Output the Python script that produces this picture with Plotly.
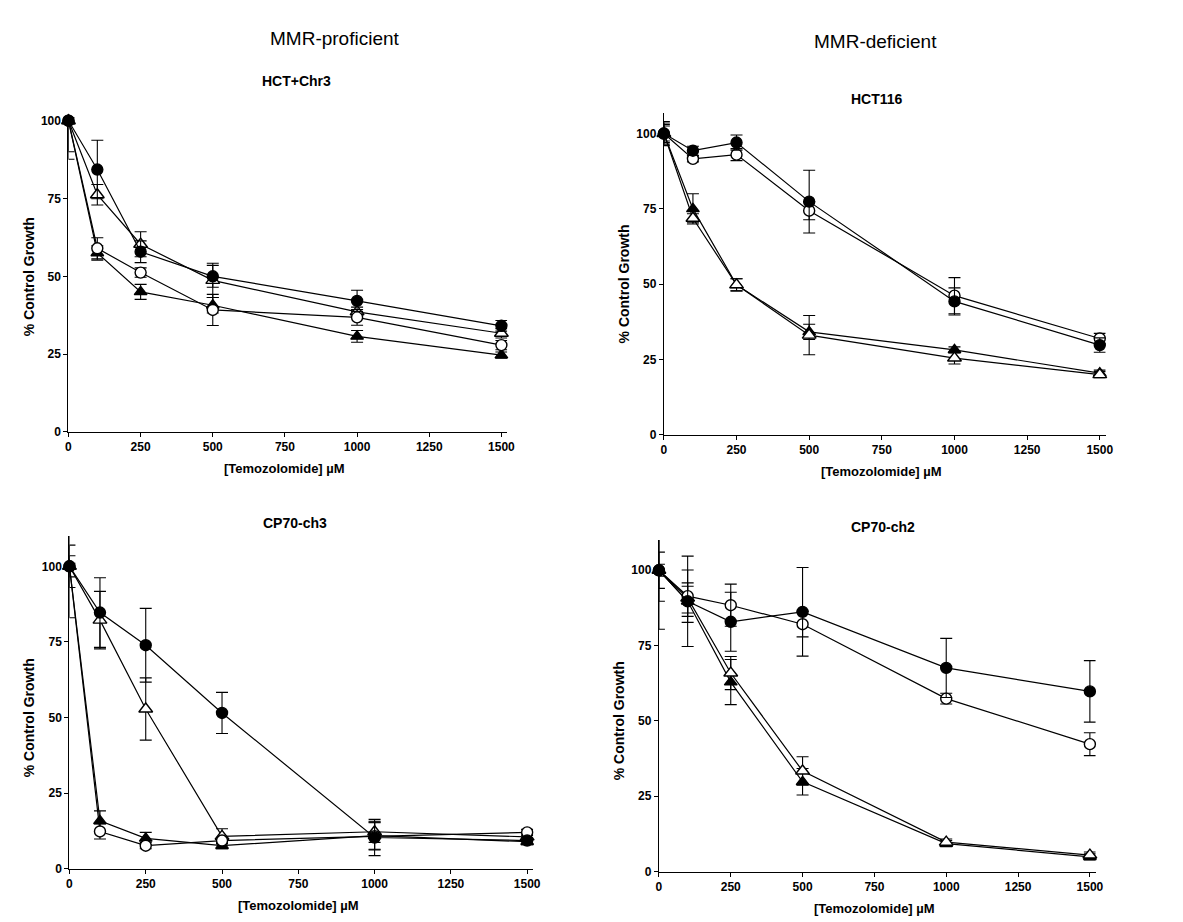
import plotly.graph_objects as go

W, H = 1183, 922

dose = [0, 100, 250, 500, 1000, 1500]
x_ticks = [0, 250, 500, 750, 1000, 1250, 1500]
y_ticks = [0, 25, 50, 75, 100]

panel_titles = ["HCT+Chr3", "HCT116", "CP70-ch3", "CP70-ch2"]
group_titles = ["MMR-proficient", "MMR-deficient"]
y_title = "% Control Growth"
x_title = "[Temozolomide] \u00b5M"

# Panel 1: HCT+Chr3
p1_filled_circle = [100, 84.3, 57.9, 50.0, 42.1, 34.1]
p1_open_circle = [100, 59.0, 51.2, 39.2, 36.8, 27.9]
p1_filled_tri = [100, 57.5, 45.0, 40.7, 30.7, 24.7]
p1_open_tri = [100, 76.2, 60.3, 48.7, 38.6, 31.7]
p1_err_fc = [1.0, 9.4, 3.5, 3.5, 3.4, 1.7]
p1_err_oc = [10.0, 3.4, 1.5, 5.0, 2.5, 1.5]
p1_err_ft = [12.4, 2.3, 2.4, 2.5, 1.9, 1.0]
p1_err_ot = [1.0, 3.3, 4.0, 5.5, 1.5, 1.5]

# Panel 2: HCT116
p2_filled_circle = [100, 94.3, 97.0, 77.4, 44.3, 29.8]
p2_open_circle = [100, 91.6, 93.0, 74.4, 46.2, 32.0]
p2_filled_tri = [100, 75.0, 49.8, 34.2, 28.2, 20.5]
p2_open_tri = [100, 71.9, 49.8, 33.1, 25.5, 20.0]
p2_err_fc = [3.5, 1.5, 2.5, 10.4, 4.5, 2.4]
p2_err_oc = [3.0, 1.0, 2.0, 3.0, 6.0, 1.7]
p2_err_ft = [2.5, 5.0, 2.0, 2.5, 1.0, 1.0]
p2_err_ot = [4.0, 1.5, 2.0, 6.5, 2.0, 1.0]

# Panel 3: CP70-ch3
p3_filled_circle = [100, 84.7, 73.9, 51.5, 10.3, 9.3]
p3_open_circle = [100, 12.3, 7.6, 9.3, 10.7, 12.0]
p3_filled_tri = [100, 15.8, 10.0, 7.6, 10.9, 8.9]
p3_open_tri = [100, 82.2, 52.8, 10.7, 12.2, 10.5]
p3_err_fc = [3.5, 11.5, 12.2, 6.8, 6.0, 1.0]
p3_err_oc = [1.0, 2.5, 1.0, 1.0, 4.5, 1.0]
p3_err_ft = [7.0, 3.3, 2.0, 1.0, 4.5, 1.0]
p3_err_ot = [17.0, 9.5, 10.3, 2.5, 3.5, 1.0]

# Panel 4: CP70-ch2
p4_filled_circle = [100, 89.7, 82.9, 86.2, 67.6, 59.8]
p4_open_circle = [100, 91.4, 88.4, 82.1, 57.4, 42.3]
p4_filled_tri = [100, 89.7, 62.9, 29.8, 9.3, 4.9]
p4_open_tri = [100, 90.8, 65.9, 33.4, 9.8, 5.5]
p4_err_fc = [2.0, 15.0, 9.8, 14.7, 9.8, 10.2]
p4_err_oc = [10.3, 8.7, 7.0, 4.2, 1.8, 3.8]
p4_err_ft = [19.6, 5.0, 7.5, 4.4, 1.0, 1.0]
p4_err_ot = [6.0, 5.0, 5.5, 4.7, 1.0, 1.0]

# drawing order: filled triangle, open triangle, open circle, filled circle (on top)
panels = [
    (p1_filled_tri, p1_open_tri, p1_open_circle, p1_filled_circle,
     p1_err_ft, p1_err_ot, p1_err_oc, p1_err_fc),
    (p2_filled_tri, p2_open_tri, p2_open_circle, p2_filled_circle,
     p2_err_ft, p2_err_ot, p2_err_oc, p2_err_fc),
    (p3_filled_tri, p3_open_tri, p3_open_circle, p3_filled_circle,
     p3_err_ft, p3_err_ot, p3_err_oc, p3_err_fc),
    (p4_filled_tri, p4_open_tri, p4_open_circle, p4_filled_circle,
     p4_err_ft, p4_err_ot, p4_err_oc, p4_err_fc),
]

# pixel geometry of each panel: x0 (x=0), x1500, y0 (y=0), y100, ytop value
geom = [
    (58, 495, 425, 110, 101.0),
    (659, 1099, 428, 123, 106.7),
    (59, 521, 867, 561, 110.0),
    (654, 1089, 870, 565, 110.0),
]
XMAX = 1520

# symbol, fill colour, size (same order as panels tuples)
styles = [
    ("triangle-up", "black", 11),
    ("triangle-up", "white", 12),
    ("circle", "white", 11),
    ("circle", "black", 11),
]
FONT = "Arial, Liberation Sans, sans-serif"

fig = go.Figure()
layout = dict(
    width=W, height=H, margin=dict(l=0, r=0, t=0, b=0),
    paper_bgcolor="white", plot_bgcolor="white", showlegend=False,
    font=dict(family=FONT, color="black"),
)
annotations = []

for i, (pan, g) in enumerate(zip(panels, geom)):
    ax = "" if i == 0 else str(i + 1)
    x0, x1500, y0, y100, ytop = g
    xpu = (x1500 - x0) / 1500.0
    ypu = (y0 - y100) / 100.0
    xr = x0 + XMAX * xpu
    yt = y0 - ytop * ypu
    series = pan[:4]
    errs = pan[4:]
    for s, e, (sym, fill, size) in zip(series, errs, styles):
        fig.add_trace(go.Scatter(
            x=dose, y=s, mode="lines+markers",
            xaxis="x" + ax, yaxis="y" + ax,
            line=dict(color="black", width=1.2),
            marker=dict(symbol=sym, size=size, color=fill,
                        line=dict(color="black", width=1.4)),
            error_y=dict(type="data", array=e, visible=True, color="black", thickness=1.1, width=6),
            cliponaxis=False,
        ))
    axis_common = dict(
        showgrid=False, zeroline=False, showline=True, linecolor="black", linewidth=1.3,
        ticks="outside", ticklen=4, tickwidth=1.2, tickcolor="black",
        tickfont=dict(family=FONT, size=12, color="black", weight="bold"),
    )
    layout["xaxis" + ax] = dict(
        domain=[x0 / W, xr / W], range=[0, XMAX], anchor="y" + ax,
        tickvals=x_ticks, ticktext=[str(t) for t in x_ticks], **axis_common,
    )
    layout["yaxis" + ax] = dict(
        domain=[1 - y0 / H, 1 - yt / H], range=[0, ytop], anchor="x" + ax,
        tickvals=y_ticks, ticktext=[str(t) for t in y_ticks], **axis_common,
    )
    annotations.append(dict(
        text="<b>" + y_title + "</b>", textangle=-90, xref="paper", yref="paper",
        x=(x0 - 40) / W, y=1 - ((y0 + y100) / 2) / H, showarrow=False,
        font=dict(size=14, family=FONT),
        xanchor="center", yanchor="middle",
    ))
    annotations.append(dict(
        text="<b>" + x_title + "</b>", xref="paper", yref="paper",
        x=((x0 + x1500) / 2) / W, y=1 - (y0 + 37) / H, showarrow=False,
        font=dict(size=13, family=FONT),
        xanchor="center", yanchor="middle",
    ))

title_pos = [(288, 70), (874, 88), (287, 517), (880, 521)]
for t, (px, py) in zip(panel_titles, title_pos):
    annotations.append(dict(
        text="<b>" + t + "</b>", xref="paper", yref="paper",
        x=px / W, y=1 - py / H, showarrow=False,
        font=dict(size=14, family=FONT),
        xanchor="center", yanchor="middle",
    ))
group_pos = [(327, 27), (873, 30)]
for t, (px, py) in zip(group_titles, group_pos):
    annotations.append(dict(
        text=t, xref="paper", yref="paper",
        x=px / W, y=1 - py / H, showarrow=False,
        font=dict(size=19, family=FONT),
        xanchor="center", yanchor="middle",
    ))

layout["annotations"] = annotations
fig.update_layout(**layout)
fig.write_html("out.html")
